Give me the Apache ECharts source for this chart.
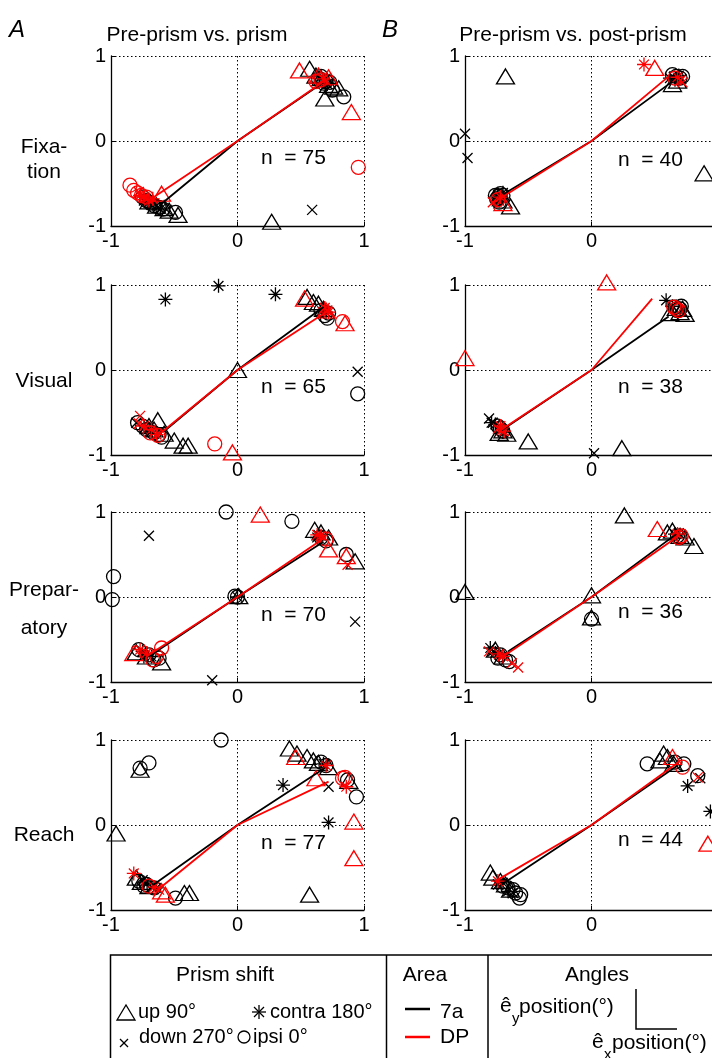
<!DOCTYPE html>
<html>
<head>
<meta charset="utf-8">
<script src="https://cdn.jsdelivr.net/npm/echarts@6/dist/echarts.min.js"></script>
<style>
  html, body { margin: 0; padding: 0; background: #fff; }
  #chart { width: 712px; height: 1058px; }
</style>
</head>
<body>
<div id="chart"></div>
<script>
const FONT = "'Liberation Sans', Arial, sans-serif"

// categories
const shapes = ['up', 'down', 'contra', 'ipsi']
const areas = ['7a', 'DP']
const areaColors = ['#000000', '#ff0000']
const columnTitles = ['Pre-prism vs. prism', 'Pre-prism vs. post-prism']
const epochLabels = [['Fixa-', 'tion'], ['Visual'], ['Prepar-', 'atory'], ['Reach']]
const nCounts = [[75, 40], [65, 38], [70, 36], [77, 44]]

// points: [x, y, prism shift, area]
const fixA = [
  [0.57, 0.85, 'up', '7a'], [0.69, 0.50, 'up', '7a'], [0.80, 0.62, 'up', '7a'], [0.76, 0.64, 'up', '7a'],
  [0.72, 0.66, 'up', '7a'], [0.66, 0.74, 'up', '7a'], [0.62, 0.77, 'up', '7a'], [0.27, -0.95, 'up', '7a'],
  [0.84, 0.52, 'ipsi', '7a'], [0.66, 0.76, 'ipsi', '7a'], [0.70, 0.70, 'ipsi', '7a'], [0.64, 0.73, 'ipsi', '7a'],
  [0.68, 0.68, 'ipsi', '7a'], [0.73, 0.69, 'ipsi', '7a'], [0.75, 0.60, 'ipsi', '7a'],
  [0.65, 0.74, 'contra', '7a'], [0.69, 0.72, 'contra', '7a'], [0.71, 0.67, 'contra', '7a'],
  [0.67, 0.71, 'down', '7a'], [0.70, 0.74, 'down', '7a'], [0.59, -0.81, 'down', '7a'],
  [-0.72, -0.70, 'ipsi', '7a'], [-0.69, -0.73, 'ipsi', '7a'], [-0.75, -0.66, 'ipsi', '7a'], [-0.66, -0.76, 'ipsi', '7a'],
  [-0.49, -0.84, 'ipsi', '7a'], [-0.62, -0.78, 'ipsi', '7a'], [-0.59, -0.80, 'ipsi', '7a'],
  [-0.47, -0.87, 'up', '7a'], [-0.64, -0.76, 'up', '7a'], [-0.58, -0.79, 'up', '7a'], [-0.70, -0.71, 'up', '7a'],
  [-0.54, -0.82, 'up', '7a'],
  [-0.70, -0.72, 'contra', '7a'], [-0.66, -0.74, 'contra', '7a'], [-0.73, -0.69, 'contra', '7a'], [-0.61, -0.80, 'contra', '7a'],
  [-0.68, -0.75, 'down', '7a'], [-0.63, -0.78, 'down', '7a'], [-0.74, -0.70, 'down', '7a'], [-0.56, -0.81, 'down', '7a'],
  [0.49, 0.83, 'up', 'DP'], [0.90, 0.34, 'up', 'DP'], [0.64, 0.77, 'up', 'DP'], [0.72, 0.75, 'up', 'DP'],
  [0.66, 0.72, 'ipsi', 'DP'], [0.62, 0.70, 'ipsi', 'DP'], [0.955, -0.31, 'ipsi', 'DP'],
  [0.68, 0.73, 'contra', 'DP'], [0.70, 0.71, 'down', 'DP'],
  [-0.85, -0.52, 'ipsi', 'DP'], [-0.82, -0.58, 'ipsi', 'DP'], [-0.79, -0.61, 'ipsi', 'DP'], [-0.76, -0.64, 'ipsi', 'DP'],
  [-0.72, -0.66, 'ipsi', 'DP'], [-0.60, -0.62, 'up', 'DP'],
  [-0.77, -0.64, 'contra', 'DP'], [-0.74, -0.66, 'contra', 'DP'], [-0.70, -0.70, 'contra', 'DP'], [-0.67, -0.68, 'contra', 'DP'],
  [-0.78, -0.60, 'down', 'DP'], [-0.73, -0.67, 'down', 'DP']
]
const fixB = [
  [0.67, 0.76, 'ipsi', '7a'], [0.64, 0.78, 'ipsi', '7a'], [0.70, 0.74, 'ipsi', '7a'], [0.66, 0.72, 'contra', '7a'],
  [0.69, 0.77, 'contra', '7a'], [0.64, 0.67, 'up', '7a'], [0.68, 0.71, 'up', '7a'], [0.71, 0.73, 'down', '7a'],
  [0.65, 0.75, 'down', '7a'], [-0.68, 0.76, 'up', '7a'], [-1.0, 0.085, 'down', '7a'], [-0.98, -0.2, 'down', '7a'],
  [0.89, -0.38, 'up', '7a'], [0.72, 0.76, 'ipsi', '7a'], [0.62, 0.74, 'contra', '7a'],
  [-0.735, -0.65, 'ipsi', '7a'], [-0.72, -0.62, 'ipsi', '7a'], [-0.75, -0.68, 'ipsi', '7a'], [-0.70, -0.64, 'ipsi', '7a'],
  [-0.73, -0.72, 'ipsi', '7a'], [-0.76, -0.64, 'ipsi', '7a'],
  [-0.71, -0.67, 'contra', '7a'], [-0.74, -0.63, 'contra', '7a'], [-0.73, -0.70, 'contra', '7a'], [-0.70, -0.61, 'contra', '7a'],
  [-0.64, -0.77, 'up', '7a'], [-0.70, -0.70, 'up', '7a'], [-0.73, -0.66, 'down', '7a'], [-0.69, -0.64, 'down', '7a'],
  [-0.75, -0.71, 'down', '7a'],
  [0.415, 0.90, 'contra', 'DP'], [0.50, 0.86, 'up', 'DP'], [0.72, 0.69, 'down', 'DP'], [0.70, 0.71, 'down', 'DP'],
  [0.66, 0.74, 'ipsi', 'DP'], [0.68, 0.75, 'contra', 'DP'],
  [-0.78, -0.72, 'down', 'DP'], [-0.74, -0.69, 'ipsi', 'DP'], [-0.72, -0.66, 'contra', 'DP'], [-0.70, -0.73, 'up', 'DP']
]
const visA = [
  [-0.57, 0.83, 'contra', '7a'], [-0.15, 0.99, 'contra', '7a'], [0.30, 0.89, 'contra', '7a'],
  [0.70, 0.68, 'contra', '7a'], [-0.71, -0.69, 'contra', '7a'], [-0.68, -0.72, 'contra', '7a'],
  [0.55, 0.86, 'up', '7a'], [0.60, 0.80, 'up', '7a'], [0.64, 0.78, 'up', '7a'], [0.68, 0.72, 'up', '7a'],
  [0.0, 0.0, 'up', '7a'], [-0.63, -0.59, 'up', '7a'], [-0.5, -0.83, 'up', '7a'], [-0.43, -0.89, 'up', '7a'],
  [-0.39, -0.89, 'up', '7a'], [-0.70, -0.66, 'up', '7a'], [-0.66, -0.70, 'up', '7a'], [-0.58, -0.75, 'up', '7a'],
  [0.71, 0.61, 'ipsi', '7a'], [0.69, 0.64, 'ipsi', '7a'], [0.72, 0.67, 'ipsi', '7a'], [0.66, 0.70, 'ipsi', '7a'],
  [0.95, -0.28, 'ipsi', '7a'], [-0.79, -0.62, 'ipsi', '7a'], [-0.75, -0.66, 'ipsi', '7a'], [-0.62, -0.76, 'ipsi', '7a'],
  [-0.60, -0.79, 'ipsi', '7a'], [-0.72, -0.70, 'ipsi', '7a'], [-0.66, -0.74, 'ipsi', '7a'],
  [0.95, -0.02, 'down', '7a'], [0.67, 0.69, 'down', '7a'], [-0.80, -0.62, 'down', '7a'], [-0.73, -0.67, 'down', '7a'],
  [0.53, 0.84, 'up', 'DP'], [0.85, 0.55, 'up', 'DP'], [-0.04, -0.97, 'up', 'DP'], [0.70, 0.70, 'up', 'DP'],
  [0.83, 0.57, 'ipsi', 'DP'], [-0.18, -0.87, 'ipsi', 'DP'], [-0.69, -0.74, 'ipsi', 'DP'], [-0.63, -0.77, 'ipsi', 'DP'],
  [-0.77, -0.54, 'down', 'DP'], [-0.78, -0.63, 'down', 'DP'], [0.71, 0.70, 'down', 'DP'],
  [-0.74, -0.66, 'contra', 'DP'], [-0.68, -0.70, 'contra', 'DP'], [-0.64, -0.76, 'contra', 'DP'],
  [0.69, 0.73, 'contra', 'DP'], [0.72, 0.68, 'contra', 'DP']
]
const visB = [
  [0.59, 0.82, 'contra', '7a'], [-0.79, -0.62, 'contra', '7a'], [0.64, 0.75, 'contra', '7a'],
  [-0.76, -0.64, 'contra', '7a'], [-0.70, -0.73, 'contra', '7a'],
  [0.70, 0.68, 'up', '7a'], [0.74, 0.66, 'up', '7a'], [0.62, 0.67, 'up', '7a'], [0.67, 0.73, 'up', '7a'],
  [0.72, 0.72, 'up', '7a'], [-0.5, -0.84, 'up', '7a'], [0.24, -0.92, 'up', '7a'], [-0.70, -0.71, 'up', '7a'],
  [-0.67, -0.75, 'up', '7a'], [-0.73, -0.74, 'up', '7a'],
  [0.66, 0.74, 'ipsi', '7a'], [0.70, 0.72, 'ipsi', '7a'], [0.68, 0.70, 'ipsi', '7a'], [0.71, 0.75, 'ipsi', '7a'],
  [-0.72, -0.69, 'ipsi', '7a'], [-0.74, -0.66, 'ipsi', '7a'], [-0.70, -0.72, 'ipsi', '7a'],
  [-0.81, -0.57, 'down', '7a'], [-0.78, -0.62, 'down', '7a'], [0.02, -0.98, 'down', '7a'],
  [0.12, 1.03, 'up', 'DP'], [-1.0, 0.14, 'up', 'DP'],
  [0.67, 0.72, 'ipsi', 'DP'], [0.65, 0.74, 'ipsi', 'DP'], [0.69, 0.70, 'ipsi', 'DP'],
  [-0.74, -0.69, 'down', 'DP'], [-0.71, -0.71, 'down', 'DP'],
  [-0.72, -0.66, 'contra', 'DP'], [-0.69, -0.72, 'contra', 'DP']
]
const prepA = [
  [-0.09, 1.0, 'ipsi', '7a'], [0.43, 0.89, 'ipsi', '7a'], [-0.98, 0.24, 'ipsi', '7a'], [-0.99, -0.03, 'ipsi', '7a'],
  [0.86, 0.50, 'ipsi', '7a'], [0.70, 0.66, 'ipsi', '7a'], [0.66, 0.70, 'ipsi', '7a'], [0.0, 0.0, 'ipsi', '7a'],
  [-0.78, -0.62, 'ipsi', '7a'], [-0.70, -0.68, 'ipsi', '7a'], [-0.66, -0.74, 'ipsi', '7a'], [-0.62, -0.72, 'ipsi', '7a'],
  [-0.70, 0.72, 'down', '7a'], [0.93, -0.29, 'down', '7a'], [-0.20, -0.98, 'down', '7a'], [0.64, 0.73, 'down', '7a'],
  [0.61, 0.79, 'up', '7a'], [0.66, 0.76, 'up', '7a'], [0.72, 0.70, 'up', '7a'], [0.93, 0.42, 'up', '7a'],
  [0.01, 0.01, 'up', '7a'], [-0.80, -0.65, 'up', '7a'], [-0.72, -0.70, 'up', '7a'], [-0.60, -0.77, 'up', '7a'],
  [0.63, 0.70, 'contra', '7a'], [0.0, 0.0, 'contra', '7a'], [-0.75, -0.64, 'contra', '7a'], [-0.68, -0.70, 'contra', '7a'],
  [-0.74, -0.70, 'contra', '7a'], [-0.02, 0.01, 'ipsi', '7a'],
  [0.18, 0.97, 'up', 'DP'], [0.72, 0.56, 'up', 'DP'], [0.86, 0.48, 'up', 'DP'], [-0.82, -0.66, 'up', 'DP'],
  [0.63, 0.73, 'contra', 'DP'], [0.66, 0.72, 'contra', 'DP'], [-0.77, -0.62, 'contra', 'DP'], [-0.72, -0.66, 'contra', 'DP'],
  [0.87, 0.38, 'down', 'DP'], [0.68, 0.71, 'down', 'DP'],
  [0.70, 0.68, 'ipsi', 'DP'], [-0.60, -0.60, 'ipsi', 'DP'], [-0.67, -0.74, 'ipsi', 'DP'], [-0.64, -0.70, 'ipsi', 'DP']
]
const prepB = [
  [0.26, 0.96, 'up', '7a'], [0.60, 0.76, 'up', '7a'], [0.64, 0.78, 'up', '7a'], [0.81, 0.60, 'up', '7a'],
  [0.70, 0.72, 'up', '7a'], [-1.0, 0.06, 'up', '7a'], [0.0, 0.02, 'up', '7a'], [0.0, -0.24, 'up', '7a'],
  [-0.76, -0.62, 'up', '7a'], [-0.70, -0.70, 'up', '7a'], [0.74, 0.70, 'up', '7a'],
  [0.0, -0.26, 'ipsi', '7a'], [0.68, 0.72, 'ipsi', '7a'], [0.70, 0.70, 'ipsi', '7a'],
  [-0.72, -0.68, 'ipsi', '7a'], [-0.68, -0.74, 'ipsi', '7a'], [-0.65, -0.76, 'ipsi', '7a'], [-0.74, -0.72, 'ipsi', '7a'],
  [-0.80, -0.60, 'contra', '7a'], [0.66, 0.74, 'contra', '7a'], [-0.76, -0.66, 'contra', '7a'],
  [-0.78, -0.64, 'down', '7a'], [0.69, 0.75, 'down', '7a'],
  [0.52, 0.80, 'up', 'DP'], [0.69, 0.70, 'ipsi', 'DP'], [0.71, 0.72, 'ipsi', 'DP'], [0.68, 0.74, 'contra', 'DP'],
  [-0.73, -0.67, 'contra', 'DP'], [-0.70, -0.70, 'contra', 'DP'],
  [-0.63, -0.78, 'down', 'DP'], [-0.58, -0.83, 'down', 'DP'], [-0.81, -0.64, 'down', 'DP']
]
const reachA = [
  [-0.13, 1.0, 'ipsi', '7a'], [-0.70, 0.73, 'ipsi', '7a'], [-0.77, 0.67, 'ipsi', '7a'], [0.94, 0.33, 'ipsi', '7a'],
  [0.87, 0.53, 'ipsi', '7a'], [0.66, 0.74, 'ipsi', '7a'], [0.70, 0.70, 'ipsi', '7a'], [-0.49, -0.86, 'ipsi', '7a'],
  [-0.78, -0.66, 'ipsi', '7a'], [-0.72, -0.70, 'ipsi', '7a'], [-0.66, -0.74, 'ipsi', '7a'], [-0.74, -0.72, 'ipsi', '7a'],
  [-0.77, 0.65, 'up', '7a'], [-0.96, -0.10, 'up', '7a'], [0.41, 0.90, 'up', '7a'], [0.47, 0.84, 'up', '7a'],
  [0.55, 0.80, 'up', '7a'], [0.60, 0.76, 'up', '7a'], [0.64, 0.73, 'up', '7a'], [0.72, 0.68, 'up', '7a'],
  [0.88, 0.52, 'up', '7a'], [0.57, -0.82, 'up', '7a'], [-0.38, -0.80, 'up', '7a'], [-0.42, -0.80, 'up', '7a'],
  [-0.80, -0.62, 'up', '7a'], [-0.70, -0.72, 'up', '7a'], [-0.76, -0.67, 'up', '7a'],
  [0.36, 0.47, 'contra', '7a'], [0.72, 0.03, 'contra', '7a'], [0.68, 0.72, 'contra', '7a'],
  [-0.74, -0.68, 'contra', '7a'], [-0.64, -0.74, 'contra', '7a'],
  [0.72, 0.45, 'down', '7a'], [-0.75, -0.65, 'down', '7a'], [-0.68, -0.73, 'down', '7a'],
  [0.46, 0.80, 'up', 'DP'], [0.62, 0.55, 'up', 'DP'], [0.92, 0.04, 'up', 'DP'], [0.92, -0.39, 'up', 'DP'],
  [-0.60, -0.78, 'up', 'DP'], [-0.57, -0.82, 'up', 'DP'],
  [0.83, 0.55, 'ipsi', 'DP'], [0.85, 0.56, 'ipsi', 'DP'], [-0.70, -0.72, 'ipsi', 'DP'],
  [0.86, 0.45, 'contra', 'DP'], [0.70, 0.70, 'contra', 'DP'], [-0.82, -0.57, 'contra', 'DP'], [-0.66, -0.73, 'contra', 'DP'],
  [-0.62, -0.76, 'down', 'DP']
]
const reachB = [
  [0.44, 0.72, 'ipsi', '7a'], [0.73, 0.72, 'ipsi', '7a'], [0.84, 0.58, 'ipsi', '7a'], [0.66, 0.74, 'ipsi', '7a'],
  [-0.56, -0.82, 'ipsi', '7a'], [-0.57, -0.86, 'ipsi', '7a'], [-0.66, -0.74, 'ipsi', '7a'], [-0.70, -0.72, 'ipsi', '7a'],
  [-0.62, -0.76, 'ipsi', '7a'], [-0.60, -0.80, 'ipsi', '7a'],
  [0.57, 0.84, 'up', '7a'], [0.54, 0.76, 'up', '7a'], [0.60, 0.80, 'up', '7a'], [0.65, 0.72, 'up', '7a'],
  [-0.80, -0.56, 'up', '7a'], [-0.78, -0.62, 'up', '7a'], [-0.72, -0.66, 'up', '7a'], [-0.68, -0.70, 'up', '7a'],
  [-0.64, -0.76, 'up', '7a'],
  [0.76, 0.46, 'contra', '7a'], [0.94, 0.16, 'contra', '7a'], [-0.70, -0.68, 'contra', '7a'], [-0.66, -0.78, 'contra', '7a'],
  [0.86, 0.55, 'down', '7a'], [-0.74, -0.70, 'down', '7a'], [-0.62, -0.80, 'down', '7a'],
  [0.64, 0.80, 'up', 'DP'], [0.92, -0.22, 'up', 'DP'], [0.72, 0.68, 'ipsi', 'DP'],
  [0.84, 0.56, 'down', 'DP'], [-0.74, -0.66, 'contra', 'DP']
]

// mean vectors: lower mean -> origin -> upper mean
const lineFixA7a = [[-0.61, -0.75], [0, 0], [0.68, 0.69]]
const lineFixADP = [[-0.66, -0.66], [0, 0], [0.70, 0.72]]
const lineFixB7a = [[-0.70, -0.63], [0, 0], [0.63, 0.69]]
const lineFixBDP = [[-0.78, -0.73], [0, 0], [0.61, 0.76]]
const lineVisA7a = [[-0.58, -0.72], [0, 0], [0.68, 0.74]]
const lineVisADP = [[-0.63, -0.77], [0, 0], [0.71, 0.69]]
const lineVisB7a = [[-0.71, -0.71], [0, 0], [0.61, 0.63]]
const lineVisBDP = [[-0.74, -0.73], [0, 0], [0.48, 0.84]]
const linePrepA7a = [[-0.70, -0.70], [0, 0], [0.68, 0.65]]
const linePrepADP = [[-0.72, -0.70], [0, 0], [0.70, 0.71]]
const linePrepB7a = [[-0.66, -0.64], [0, 0], [0.67, 0.74]]
const linePrepBDP = [[-0.74, -0.74], [0, 0], [0.69, 0.72]]
const lineReachA7a = [[-0.67, -0.71], [0, 0], [0.69, 0.67]]
const lineReachADP = [[-0.62, -0.75], [0, 0], [0.72, 0.51]]
const lineReachB7a = [[-0.71, -0.70], [0, 0], [0.68, 0.70]]
const lineReachBDP = [[-0.76, -0.66], [0, 0], [0.69, 0.74]]

const panels = [
  [fixA, lineFixA7a, lineFixADP], [fixB, lineFixB7a, lineFixBDP],
  [visA, lineVisA7a, lineVisADP], [visB, lineVisB7a, lineVisBDP],
  [prepA, linePrepA7a, linePrepADP], [prepB, linePrepB7a, linePrepBDP],
  [reachA, lineReachA7a, lineReachADP], [reachB, lineReachB7a, lineReachBDP]
]

const colLeft = [111, 465]
const colWidth = 253
const rowTop = [56, 285, 512, 740]
const rowHeight = 170

const symbols = {
  up: 'triangle',
  down: 'path://M0,0L10,10M10,0L0,10',
  contra: 'path://M5,0L5,10M0,5L10,5M1.5,1.5L8.5,8.5M8.5,1.5L1.5,8.5',
  ipsi: 'circle'
}
const symbolSizes = { up: [18, 15], down: 10, contra: 14, ipsi: 14 }

const grids = []
const xAxes = []
const yAxes = []
const series = []

const axisBase = (i) => ({
  type: 'value',
  gridIndex: i,
  min: -1,
  max: 1,
  interval: 1,
  axisLine: { onZero: false, lineStyle: { color: '#000', width: 1.3 } },
  axisTick: { inside: true, length: 4, lineStyle: { color: '#000' } },
  axisLabel: { color: '#000', fontSize: 20, fontFamily: FONT, margin: 5 },
  splitLine: { show: true, lineStyle: { color: '#000', width: 1, type: [1.5, 2.5] } }
})

panels.forEach((p, i) => {
  const row = Math.floor(i / 2)
  const col = i % 2
  grids.push({
    left: colLeft[col], top: rowTop[row], width: colWidth, height: rowHeight,
    outerBoundsMode: 'none', containLabel: false
  })
  xAxes.push(axisBase(i))
  yAxes.push(axisBase(i))

  areas.forEach((area, ai) => {
    shapes.forEach((shape) => {
      series.push({
        type: 'scatter',
        xAxisIndex: i,
        yAxisIndex: i,
        clip: false,
        silent: true,
        z: 2 + ai,
        symbol: symbols[shape],
        symbolSize: symbolSizes[shape],
        itemStyle: { color: 'rgba(0,0,0,0)', borderColor: areaColors[ai], borderWidth: 1.3, opacity: 1 },
        data: p[0].filter((d) => d[2] === shape && d[3] === area).map((d) => [d[0], d[1]])
      })
    })
    series.push({
      type: 'line',
      xAxisIndex: i,
      yAxisIndex: i,
      silent: true,
      z: 5 + ai,
      symbol: 'none',
      lineStyle: { color: areaColors[ai], width: 1.8 },
      data: p[1 + ai]
    })
  })
})

// text and legend
const graphic = []
const txt = (text, x, y, opts = {}) => {
  graphic.push({
    type: 'text',
    silent: true,
    style: {
      text: text,
      x: x,
      y: y,
      fill: '#000',
      font: (opts.italic ? 'italic ' : '') + (opts.size || 21) + 'px ' + FONT,
      textAlign: opts.align || 'left',
      textVerticalAlign: 'middle'
    }
  })
}
const seg = (pts, color, w) => {
  graphic.push({
    type: 'polyline',
    silent: true,
    shape: { points: pts },
    style: { stroke: color || '#000', lineWidth: w || 1.5, fill: null }
  })
}

txt('A', 9, 30, { italic: true, size: 24 })
txt('B', 382, 30, { italic: true, size: 24 })
txt(columnTitles[0], 197, 35, { align: 'center' })
txt(columnTitles[1], 573, 35, { align: 'center' })

const epochY = [[147, 172], [381], [590, 628], [835]]
epochLabels.forEach((lines, r) => {
  lines.forEach((l, k) => txt(l, 44, epochY[r][k], { align: 'center' }))
})

const nY = [[158, 160], [387, 387], [615, 612], [843, 840]]
nCounts.forEach((row, r) => {
  row.forEach((n, c) => txt('n  = ' + n, c === 0 ? 261 : 618, nY[r][c]))
})

// legend box
graphic.push({
  type: 'rect',
  silent: true,
  shape: { x: 110.5, y: 955, width: 640, height: 140 },
  style: { stroke: '#000', lineWidth: 1.5, fill: null }
})
seg([[386.5, 955], [386.5, 1060]])
seg([[488, 955], [488, 1060]])

txt('Prism shift', 225, 975, { align: 'center' })
txt('Area', 425, 975, { align: 'center' })
txt('Angles', 597, 975, { align: 'center' })

graphic.push({
  type: 'polygon', silent: true,
  shape: { points: [[117, 1020], [135, 1020], [126, 1005]] },
  style: { stroke: '#000', lineWidth: 1.3, fill: null }
})
seg([[259, 1005], [259, 1019]], '#000', 1.3)
seg([[252, 1012], [266, 1012]], '#000', 1.3)
seg([[254, 1007], [264, 1017]], '#000', 1.3)
seg([[264, 1007], [254, 1017]], '#000', 1.3)
seg([[120, 1039], [128, 1047]], '#000', 1.3)
seg([[128, 1039], [120, 1047]], '#000', 1.3)
graphic.push({
  type: 'circle', silent: true,
  shape: { cx: 244, cy: 1037, r: 6 },
  style: { stroke: '#000', lineWidth: 1.3, fill: null }
})
txt('up 90°', 138, 1012, { size: 20 })
txt('contra 180°', 270, 1012, { size: 20 })
txt('down 270°', 139, 1037, { size: 20 })
txt('ipsi 0°', 253, 1037, { size: 20 })

seg([[405, 1009], [430, 1009]], areaColors[0], 2.5)
seg([[405, 1037], [430, 1037]], areaColors[1], 2.5)
txt(areas[0], 440, 1012)
txt(areas[1], 440, 1037)

txt('ê', 500, 1006)
txt('y', 512, 1019, { size: 15 })
txt('position(°)', 519, 1007)
seg([[636, 989], [636, 1029], [677, 1029]], '#000', 1.5)
txt('ê', 592, 1042)
txt('x', 604, 1055, { size: 15 })
txt('position(°)', 612, 1043)

const chart = echarts.init(document.getElementById('chart'), null, { renderer: 'canvas' })
chart.setOption({
  animation: false,
  backgroundColor: '#fff',
  grid: grids,
  xAxis: xAxes,
  yAxis: yAxes,
  series: series,
  graphic: graphic
})
</script>
</body>
</html>
